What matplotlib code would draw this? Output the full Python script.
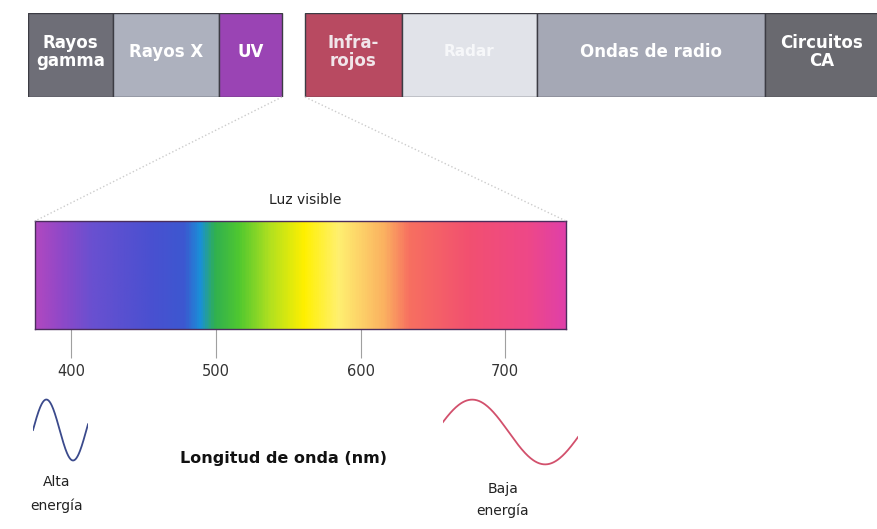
import numpy as np
import matplotlib.pyplot as plt
from matplotlib.colors import LinearSegmentedColormap
from matplotlib.lines import Line2D

# Bands of the electromagnetic spectrum (relative widths along the strip)
bands = ['Rayos\ngamma', 'Rayos X', 'UV', '', 'Infra-\nrojos', 'Radar', 'Ondas de radio', 'Circuitos\nCA']
band_widths = [85, 106, 63, 23, 97, 135, 228, 113]
band_colors = ['#6e6e77', '#adb1be', '#9a44b4', '#ffffff', '#b84a61', '#e1e3e9', '#a5a8b5', '#69696f']
label_colors = ['white', 'white', 'white', 'white', '#f1e6ea', '#f6f7f9', 'white', 'white']

# Visible light colour stops (wavelength in nm)
stop_nm = [375, 392, 413, 454, 478, 489, 499, 516, 537, 561, 585, 617, 634, 675, 717, 742]
stop_colors = ['#b048c0', '#9048c8', '#6a50d0', '#4a50d0', '#3c58d0', '#1a90d8', '#30b050', '#50c830',
               '#b0e020', '#fff000', '#fff070', '#fbb060', '#f77060', '#f25070', '#ee4888', '#e040a8']
tick_nm = [400, 500, 600, 700]

W, H = 878, 529
fig = plt.figure(figsize=(W / 100, H / 100), dpi=100)


def px_axes(x0, y0, x1, y1):
    # axes placed by pixel box (top-left origin)
    return fig.add_axes([x0 / W, 1 - y1 / H, (x1 - x0) / W, (y1 - y0) / H])


# Top strip
ax = px_axes(28, 13, 878, 97)
lefts = np.concatenate([[0], np.cumsum(band_widths)[:-1]])
for name, left, w, c, tc in zip(bands, lefts, band_widths, band_colors, label_colors):
    if name == '':
        continue
    ax.barh(0, w, left=left, height=1, color=c, edgecolor='#3c3c44', linewidth=1)
    size = 11 if name == 'Radar' else 12
    ax.text(left + w / 2, 0.04, name, ha='center', va='center', color=tc,
            fontsize=size, fontweight='bold', linespacing=1.0)
ax.set_xlim(0, sum(band_widths))
ax.set_ylim(-0.5, 0.5)
ax.axis('off')

# Visible spectrum bar
ax2 = px_axes(35, 221, 566, 329)
pos = [(n - stop_nm[0]) / (stop_nm[-1] - stop_nm[0]) for n in stop_nm]
cmap = LinearSegmentedColormap.from_list('visible', list(zip(pos, stop_colors)))
grad = np.linspace(stop_nm[0], stop_nm[-1], 600).reshape(1, -1)
ax2.imshow(grad, cmap=cmap, aspect='auto', extent=[stop_nm[0], stop_nm[-1], 0, 1],
           vmin=stop_nm[0], vmax=stop_nm[-1])
ax2.set_xlim(stop_nm[0], stop_nm[-1])
ax2.set_ylim(0, 1)
ax2.set_xticks(tick_nm)
ax2.set_xticklabels([str(t) for t in tick_nm])
ax2.set_yticks([])
ax2.tick_params(axis='x', direction='out', length=21, width=0.8, color='#a0a0a0',
                pad=4, labelsize=10.5, labelcolor='#333333')
for s in ax2.spines.values():
    s.set_color('#4a2d5c')
    s.set_linewidth(1)

fig.text(305 / W, 1 - 200 / H, 'Luz visible', ha='center', va='center', fontsize=10, color='#222222')

# Dotted guide lines from the strip to the bar
fig.add_artist(Line2D([282 / W, 35 / W], [1 - 97 / H, 1 - 221 / H], transform=fig.transFigure,
                      linestyle=':', color='#cccccc', linewidth=1))
fig.add_artist(Line2D([305 / W, 566 / W], [1 - 97 / H, 1 - 221 / H], transform=fig.transFigure,
                      linestyle=':', color='#cccccc', linewidth=1))

# Short wave (high energy)
axb = px_axes(33, 398, 88, 462)
tb = np.linspace(0, 2.06 * np.pi, 200)
axb.plot(tb, np.sin(tb), color='#3b4a8c', linewidth=1.3)
axb.set_xlim(tb[0], tb[-1])
axb.set_ylim(-1.05, 1.05)
axb.axis('off')

# Long wave (low energy)
axr = px_axes(443, 398, 578, 466)
tr = np.linspace(0.1 * np.pi, 1.95 * np.pi, 200)
axr.plot(tr, np.sin(tr), color='#d2506c', linewidth=1.3)
axr.set_xlim(tr[0], tr[-1])
axr.set_ylim(-1.05, 1.05)
axr.axis('off')

fig.text(284 / W, 1 - 458 / H, 'Longitud de onda (nm)', ha='center', va='center',
         fontsize=11.5, fontweight='bold', color='#111111')
fig.text(57 / W, 1 - 494 / H, 'Alta\nenergía', ha='center', va='center',
         fontsize=10, color='#222222', linespacing=1.8)
fig.text(503 / W, 1 - 500 / H, 'Baja\nenergía', ha='center', va='center',
         fontsize=10, color='#222222', linespacing=1.6)

fig.savefig('out.png', dpi=100)
